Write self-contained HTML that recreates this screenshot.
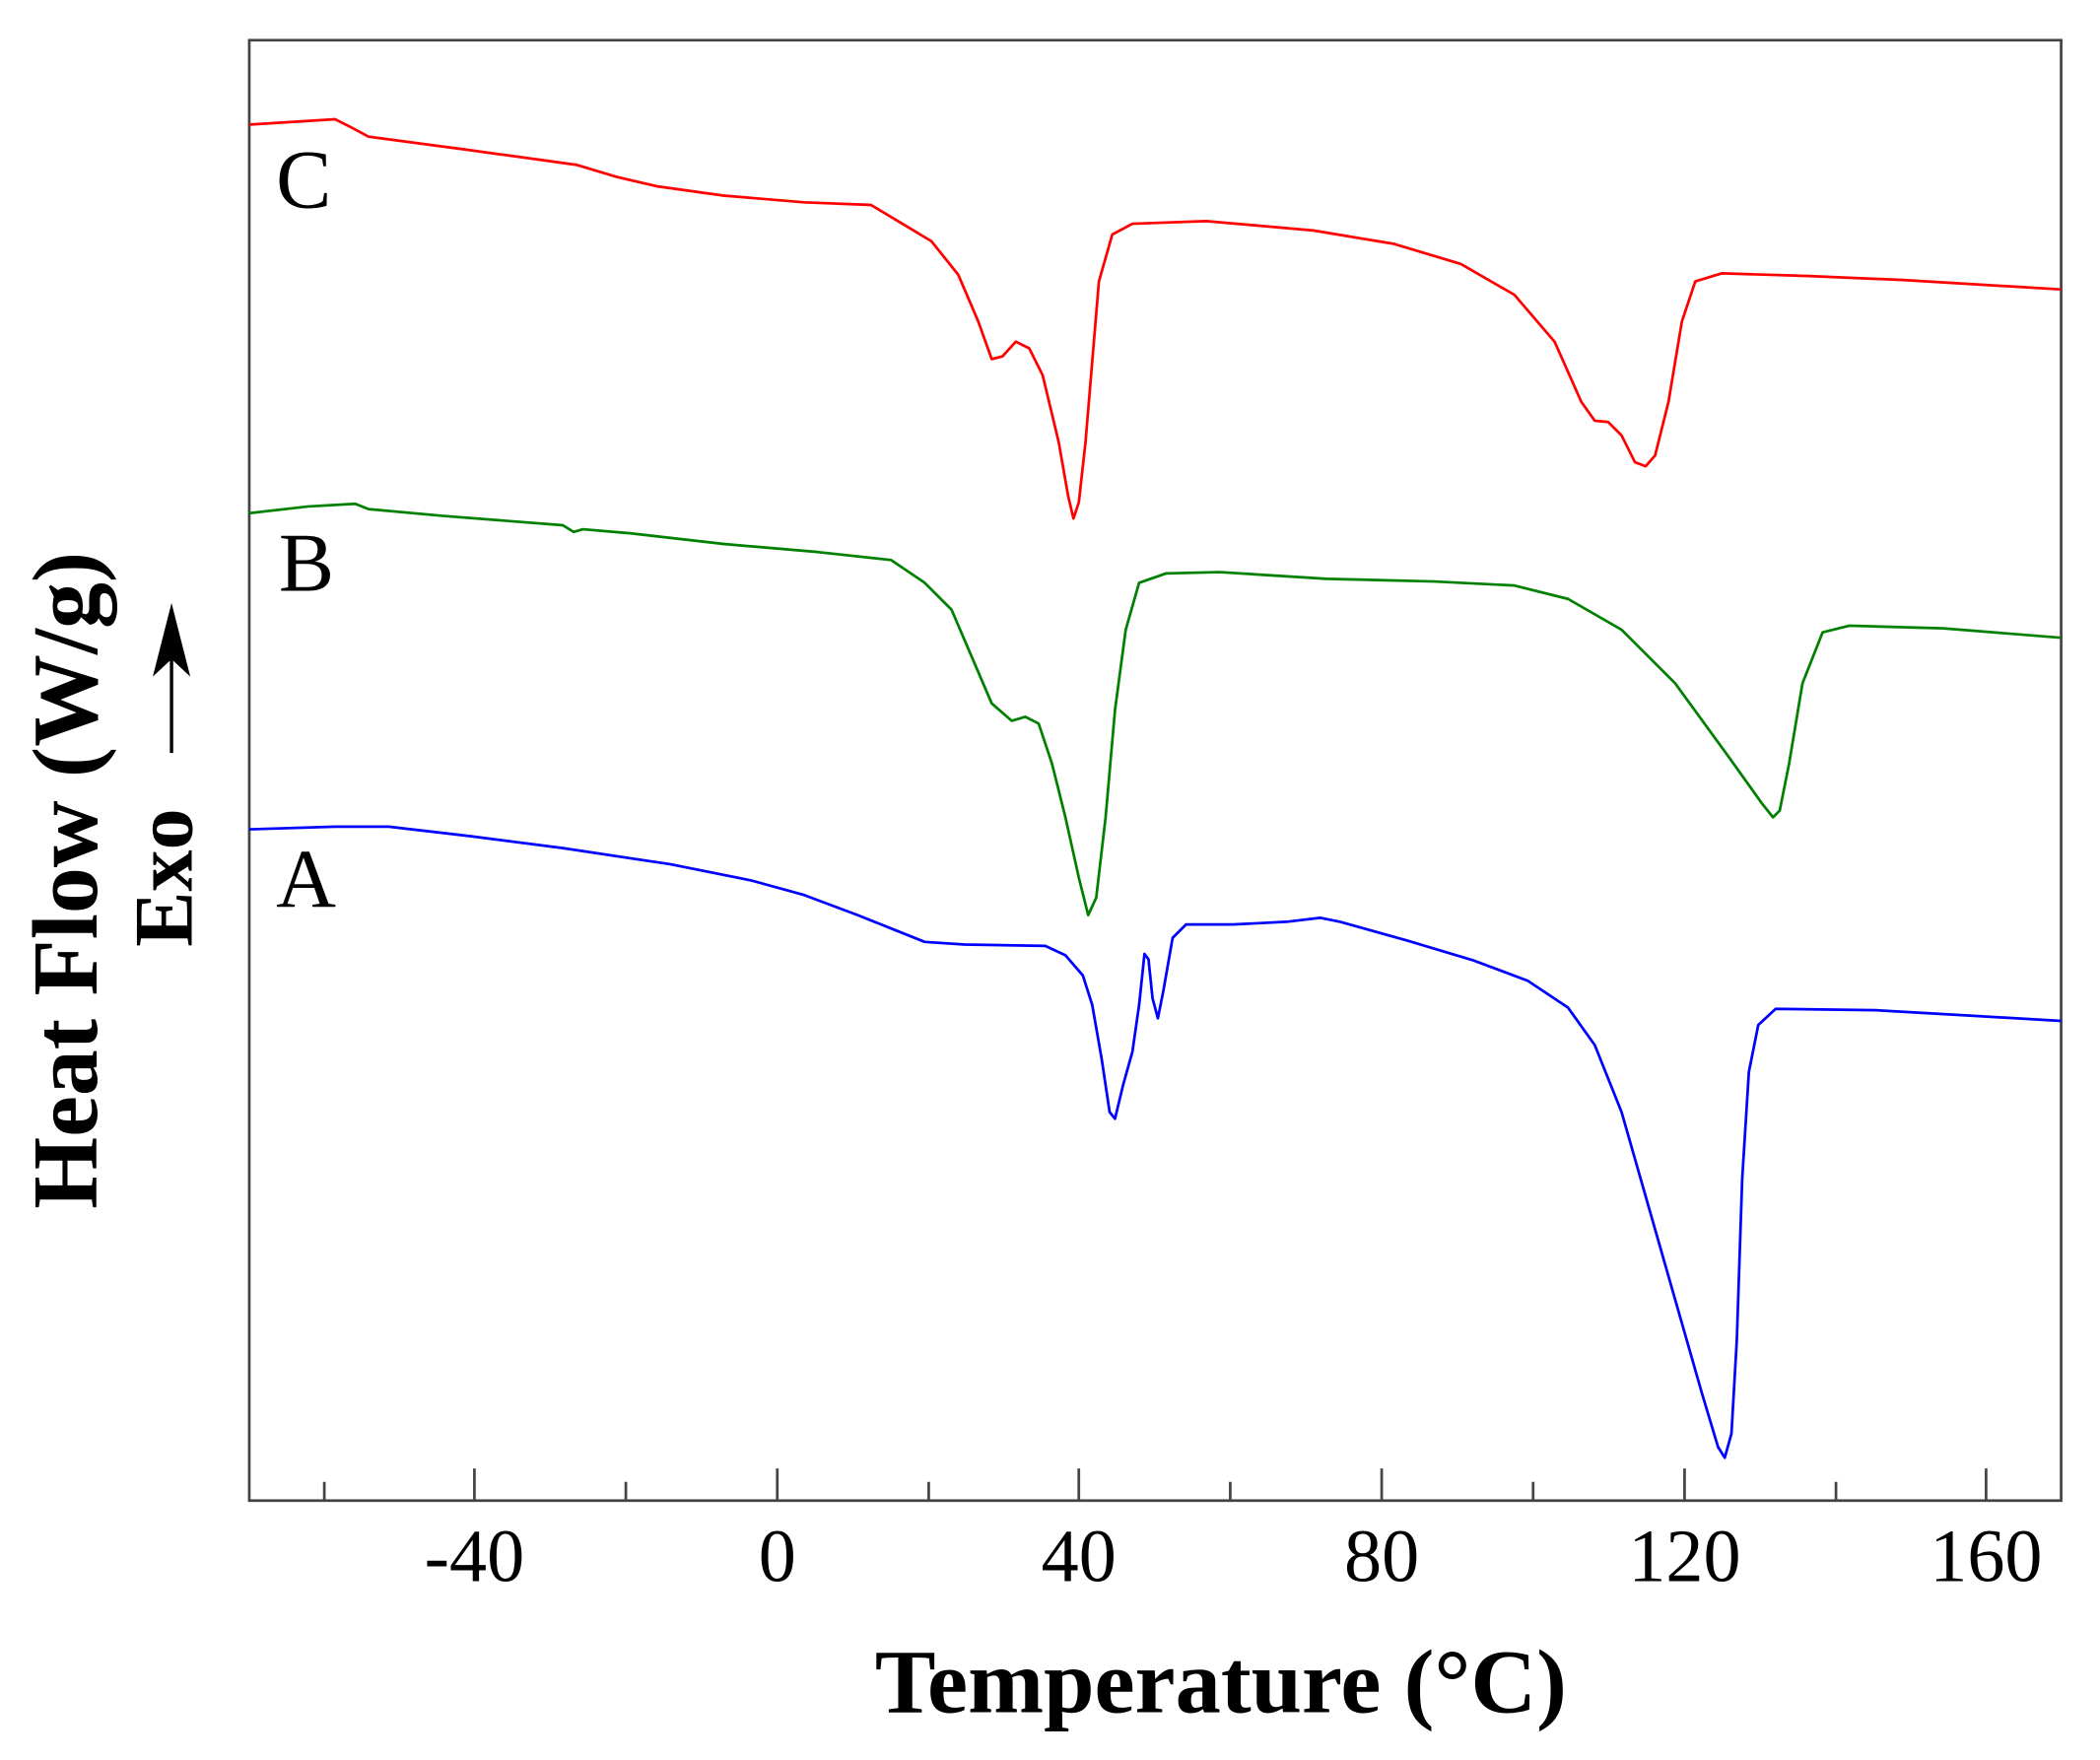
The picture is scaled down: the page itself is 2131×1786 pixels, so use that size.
<!DOCTYPE html>
<html><head><meta charset="utf-8"><style>html,body{margin:0;padding:0;background:#fff}svg{display:block}</style></head>
<body>
<svg width="2131" height="1786" viewBox="0 0 1567 1313.6" preserveAspectRatio="none" xmlns="http://www.w3.org/2000/svg" font-family="Liberation Serif, serif">
<rect x="186" y="30" width="1352" height="1090" fill="none" stroke="#444" stroke-width="2"/>
<g stroke="#444" stroke-width="2">
<line x1="242" y1="1120" x2="242" y2="1106"/><line x1="354" y1="1120" x2="354" y2="1096"/>
<line x1="467" y1="1120" x2="467" y2="1106"/><line x1="580" y1="1120" x2="580" y2="1096"/>
<line x1="693" y1="1120" x2="693" y2="1106"/><line x1="805" y1="1120" x2="805" y2="1096"/>
<line x1="918" y1="1120" x2="918" y2="1106"/><line x1="1031" y1="1120" x2="1031" y2="1096"/>
<line x1="1144" y1="1120" x2="1144" y2="1106"/><line x1="1257" y1="1120" x2="1257" y2="1096"/>
<line x1="1370" y1="1120" x2="1370" y2="1106"/><line x1="1482" y1="1120" x2="1482" y2="1096"/>
</g>
<g font-size="56" text-anchor="middle" fill="#000">
<text x="354" y="1180">-40</text><text x="580" y="1180">0</text><text x="805" y="1180">40</text>
<text x="1031" y="1180">80</text><text x="1257" y="1180">120</text><text x="1482" y="1180">160</text>
</g>
<text x="911" y="1278" font-size="68" font-weight="bold" text-anchor="middle">Temperature (°C)</text>
<text transform="translate(72,657) rotate(-90)" font-size="69" font-weight="bold" text-anchor="middle">Heat Flow (W/g)</text>
<text transform="translate(143,655) rotate(-90)" font-size="62" font-weight="bold" text-anchor="middle">Exo</text>
<line x1="128" y1="562" x2="128" y2="480" stroke="#000" stroke-width="2.5"/>
<polygon points="128,450 114,505 128,492 142,505" fill="#000"/>
<g font-size="62"><text x="206" y="155">C</text><text x="208" y="441">B</text><text x="206" y="677">A</text></g>
<g fill="none" stroke-width="2" stroke-linejoin="round">
<polyline stroke="#ff0000" points="186,93 250,89 262,95 275,102 350,112 430,123 460,132 490,139 540,146 600,151 650,153 670,165 695,180 715,205 730,240 740,268 748,266 758,255 768,260 778,280 790,330 797,370 801,387 805,375 810,330 815,270 820,210 830,175 845,167 900,165 980,172 1040,182 1090,197 1130,220 1160,255 1180,300 1190,314 1200,315 1210,325 1220,345 1228,348 1235,340 1245,300 1255,240 1265,210 1285,204 1350,206 1420,209 1538,216"/>
<polyline stroke="#008000" points="186,383 230,378 265,376 275,380 330,385 420,392 428,397 435,395 470,398 540,406 610,412 665,418 690,435 710,455 725,490 740,525 755,538 765,535 775,540 785,570 795,610 805,655 812,683 818,670 825,610 832,530 840,470 850,435 870,428 910,427 990,432 1070,434 1130,437 1170,447 1210,470 1250,510 1290,565 1315,600 1323,610 1328,605 1335,570 1345,510 1360,472 1380,467 1450,469 1538,476"/>
<polyline stroke="#0000ff" points="186,619 250,617 290,617 350,624 420,633 500,645 560,657 600,668 640,683 670,695 690,703 720,705 780,706 795,713 808,728 815,750 822,790 828,830 832,835 838,810 845,785 850,750 854,712 857,716 860,745 864,760 868,740 875,700 885,690 920,690 960,688 985,685 1000,688 1050,702 1100,717 1140,732 1170,752 1190,780 1210,830 1230,900 1250,970 1270,1040 1282,1080 1287,1088 1292,1070 1296,1000 1300,880 1305,800 1312,765 1325,753 1400,754 1470,758 1538,762"/>
</g>
</svg>
</body></html>
